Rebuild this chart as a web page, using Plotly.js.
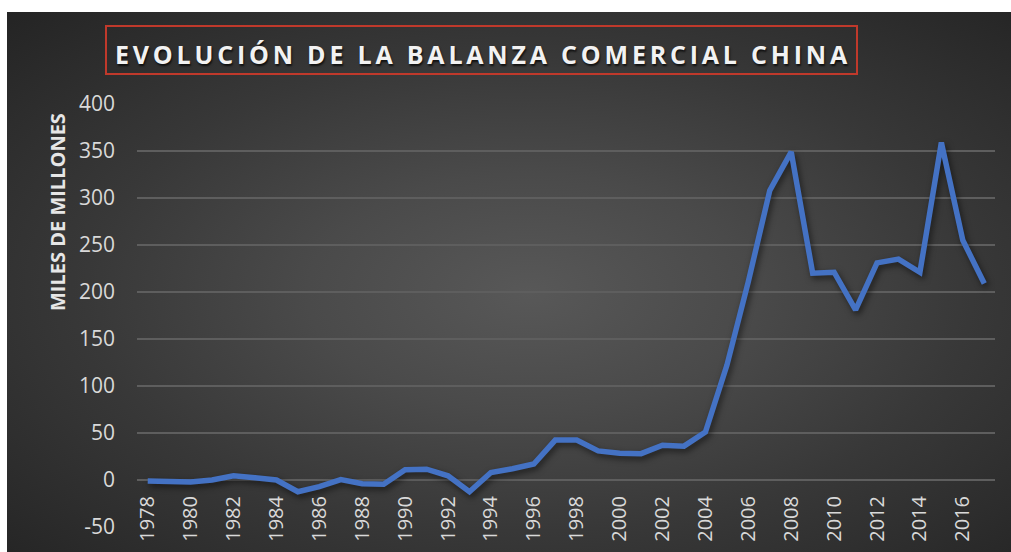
<!DOCTYPE html>
<html>
<head>
<meta charset="utf-8">
<script src="https://cdn.plot.ly/plotly-3.0.1.min.js"></script>
<style>
  html, body { margin: 0; padding: 0; background: #ffffff; }
  #wrap { position: relative; width: 1011px; height: 552px; overflow: hidden; }
  #bg { position: absolute; left: 7px; top: 12px; right: 0; bottom: 0;
        background: radial-gradient(ellipse farthest-corner at 52% 52%, #585858 0%, #4a4a4a 30%, #383838 60%, #242424 100%); }
  #chart { position: absolute; left: 0; top: 0; width: 1011px; height: 552px; }
</style>
</head>
<body>
<div id="wrap">
  <div id="bg"></div>
  <div id="chart"></div>
</div>
<script>
const years = [1978,1979,1980,1981,1982,1983,1984,1985,1986,1987,1988,1989,1990,1991,1992,1993,1994,1995,1996,1997,1998,1999,2000,2001,2002,2003,2004,2005,2006,2007,2008,2009,2010,2011,2012,2013,2014,2015,2016,2017];
const balanza = [-1,-2,-2,0,4.5,2.5,0,-12.5,-7,0.5,-4,-4.5,11,11.5,4.5,-12.5,8,12,17,42.5,42.5,31,28.5,28,37,36,51,122,211,308,349,220,221,181,231,235,221,359,255,209];
const tickYears = [1978,1980,1982,1984,1986,1988,1990,1992,1994,1996,1998,2000,2002,2004,2006,2008,2010,2012,2014,2016];
const yTicks = [-50,0,50,100,150,200,250,300,350,400];
const titleText = 'EVOLUCIÓN DE LA BALANZA COMERCIAL CHINA';
const yTitleText = 'MILES DE MILLONES';

const W = 1011, H = 552;
const mL = 137, mR = 16, mT = 104, mB = 25;
const plotW = W - mL - mR, plotH = H - mT - mB;
const px2x = p => (p - mL) / plotW;
const px2y = p => (H - mB - p) / plotH;

const trace = {
  x: years, y: balanza, type: 'scatter', mode: 'lines',
  line: {color: '#4472c4', width: 5.5, shape: 'linear'},
  hoverinfo: 'x+y'
};

const layout = {
  width: W, height: H,
  paper_bgcolor: 'rgba(0,0,0,0)', plot_bgcolor: 'rgba(0,0,0,0)',
  margin: {l: mL, r: mR, t: mT, b: mB},
  showlegend: false,
  title: {
    text: titleText,
    font: {family: 'Open Sans, sans-serif', size: 25, weight: 'bold', color: '#f2f2f2', shadow: '1px 2px 2px rgba(0,0,0,0.7)'},
    xref: 'container', yref: 'container',
    x: 483 / W, xanchor: 'center',
    y: 1 - 55 / H, yanchor: 'middle'
  },
  xaxis: {
    type: 'linear', range: [1977.5, 2017.5],
    tickmode: 'array', tickvals: tickYears, ticktext: tickYears.map(String),
    tickangle: -90, tickfont: {family: 'Open Sans, sans-serif', size: 20, color: '#d9d9d9'},
    showgrid: false, zeroline: false, showline: false, ticks: '',
    anchor: 'free', position: px2y(480),
    ticklabelstandoff: 11, fixedrange: true
  },
  yaxis: {
    range: [-50, 400],
    tickmode: 'array', tickvals: yTicks, ticktext: yTicks.map(String),
    tickfont: {family: 'Open Sans, sans-serif', size: 21, color: '#d9d9d9'},
    showgrid: true, gridcolor: '#5e5e5e', gridwidth: 1.3,
    zeroline: false, showline: false, ticks: '',
    ticklabelstandoff: 21, fixedrange: true
  },
  shapes: [{
    type: 'rect', xref: 'paper', yref: 'paper',
    x0: px2x(106), x1: px2x(857), y0: px2y(74), y1: px2y(26),
    line: {color: '#c0392b', width: 2}, fillcolor: 'rgba(0,0,0,0)'
  }],
  annotations: [{
    text: yTitleText, textangle: -90, showarrow: false,
    xref: 'paper', yref: 'paper',
    x: px2x(57), y: px2y(212),
    xanchor: 'center', yanchor: 'middle',
    font: {family: 'Open Sans, sans-serif', size: 20, weight: 'bold', color: '#e6e6e6'}
  }]
};

Plotly.newPlot('chart', [trace], layout, {displayModeBar: false, staticPlot: true}).then(() => {
  const t = document.querySelector('#chart .gtitle');
  if (t) t.style.letterSpacing = '3.8px';
  document.querySelectorAll('#chart .scatterlayer .js-line').forEach(p => {
    p.style.filter = 'drop-shadow(2px 3px 3px rgba(0,0,0,0.55))';
  });
});
</script>
</body>
</html>
